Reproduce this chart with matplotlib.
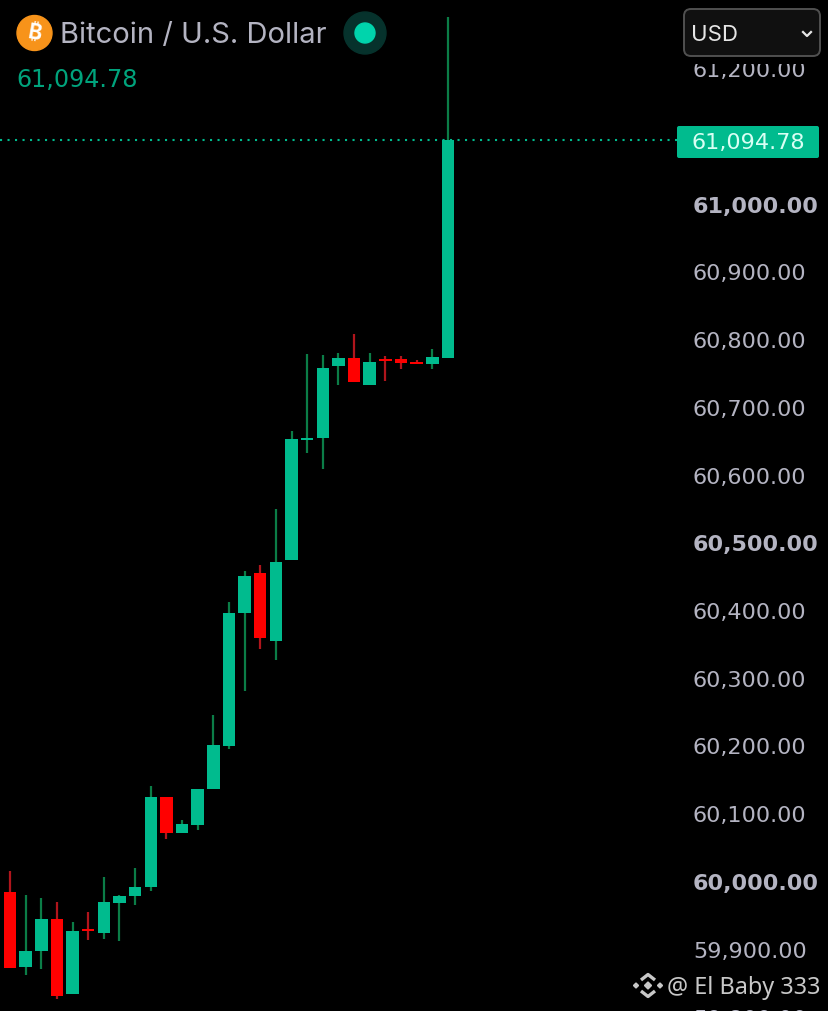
import matplotlib
matplotlib.use("Agg")
import matplotlib.pyplot as plt
from matplotlib.patches import Circle, FancyBboxPatch, Polygon, Rectangle
from matplotlib.transforms import IdentityTransform, blended_transform_factory
import numpy as np

# Candles
opens = [59985, 59874, 59898, 59945, 59835, 59930, 59924, 59969, 59979, 59992,
         60126, 60073, 60084, 60137, 60201, 60397, 60456, 60356, 60475, 60653,
         60656, 60762, 60773, 60733, 60772, 60772, 60768, 60764, 60774]
closes = [59873, 59898, 59945, 59832, 59928, 59927, 59970, 59980, 59993, 60126,
          60073, 60085, 60137, 60202, 60397, 60452, 60360, 60473, 60654, 60655,
          60758, 60773, 60738, 60768, 60769, 60766, 60765, 60775, 61094.78]
highs = [60016, 59981, 59976, 59970, 59941, 59956, 60007, 59981, 60020, 60141,
         60126, 60092, 60137, 60246, 60414, 60459, 60468, 60551, 60666, 60779,
         60778, 60781, 60809, 60781, 60777, 60776, 60770, 60786, 61277]
lows = [59873, 59862, 59872, 59827, 59835, 59914, 59916, 59913, 59966, 59987,
        60063, 60073, 60077, 60137, 60196, 60282, 60344, 60328, 60475, 60633,
        60610, 60734, 60738, 60733, 60739, 60757, 60765, 60757, 60774]

price_ticks = [59900, 60000, 60100, 60200, 60300, 60400, 60500, 60600,
               60700, 60800, 60900, 61000, 61200]
bold_ticks = [60000, 60500, 61000]
cut_tick = 59800  # only its top shows at the bottom edge
last_price = 61094.78

title = "Bitcoin / U.S. Dollar"
watermark = "@ El Baby 333"
currency = "USD"

GREEN = "#00bb8e"
GREEN_WICK = "#0b7d47"
RED = "#ff0000"
RED_WICK = "#b0151c"
LABEL = "#b4b4c2"

plt.rcParams["font.family"] = ["DejaVu Sans"]

W, H = 829, 1011
fig = plt.figure(figsize=(W / 100, H / 100), dpi=100, facecolor="black")
ax = fig.add_axes([0, 0, 1, 1], facecolor="black")

idx = np.arange(len(opens))
opens = np.array(opens)
closes = np.array(closes)
highs = np.array(highs)
lows = np.array(lows)
up = closes >= opens

ax.vlines(idx, lows, highs, colors=[GREEN_WICK if u else RED_WICK for u in up], linewidth=1.6, zorder=2)
ax.bar(idx, np.abs(closes - opens), bottom=np.minimum(opens, closes), width=0.8,
       color=[GREEN if u else RED for u in up], zorder=3)

# price axis, labels sit inside the figure
ax.set_yticks(price_ticks)
ax.set_yticklabels([f"{p:,.2f}" for p in price_ticks])
ax.yaxis.tick_right()
ax.tick_params(axis="y", length=0, pad=-(W - 693) * 0.72, labelsize=16.1, labelcolor=LABEL)
for lab, p in zip(ax.get_yticklabels(), price_ticks):
    lab.set_ha("left")
    if p in bold_ticks:
        lab.set_fontweight("bold")
        lab.set_fontsize(16)
ax.set_xticks([])
for s in ax.spines.values():
    s.set_visible(False)

# scale: 677.5 px per 1000 USD, 60000 sits at y=882; candles 15.64 px apart, first at x=10
px_per_usd = 0.6775
ax.set_ylim(60000 - (H - 882) / px_per_usd, 60000 + 882 / px_per_usd)
ax.set_xlim(-10 / 15.64, (W - 10) / 15.64)

ax.text(693, cut_tick, f"{cut_tick:,.2f}", color=LABEL, fontsize=16.1, ha="left", va="center_baseline",
        transform=blended_transform_factory(IdentityTransform(), ax.transData))

# dotted last price line up to the tag
ax.hlines(last_price, -10 / 15.64, (677 - 10) / 15.64, colors=GREEN, linestyles=(0, (1, 2.6)), linewidth=1.5, zorder=1)

# overlay in pixel coordinates for the widgets
ov = fig.add_axes([0, 0, 1, 1], facecolor="none")
ov.set_xlim(0, W)
ov.set_ylim(H, 0)
ov.axis("off")

ov.add_patch(Circle((34.5, 33), 17.5, color="#f7931a"))
ov.text(34.5, 33.5, "\u20bf", color="white", fontsize=15, fontweight="bold", ha="center", va="center",
        rotation=-10, family=["Inter", "Noto Sans", "Roboto", "Open Sans", "Lato", "DejaVu Sans"])
ov.text(60, 33, title, color=LABEL, fontsize=21, ha="left", va="center_baseline", family=["Inter", "DejaVu Sans"])
ov.text(16, 78, f"{last_price:,.2f}", color="#00a37c", fontsize=17.2, ha="left", va="center_baseline")
ov.add_patch(Circle((365, 33), 21, color="#06322c"))
ov.add_patch(Circle((365, 33), 10, color="#00d4ac"))

# currency selector, its black margin cuts the top of the 61,200 label
ov.add_patch(Rectangle((680, 0), 149, 63.5, facecolor="black", edgecolor="none", zorder=4))
ov.add_patch(FancyBboxPatch((684, 9), 136, 47, boxstyle="round,pad=0,rounding_size=7",
                            facecolor="#101010", edgecolor="#505050", linewidth=1.4, zorder=5))
ov.text(691, 33, currency, color="#e6e6e6", fontsize=16, ha="left", va="center_baseline", zorder=6,
        family=["Inter", "DejaVu Sans"])
ov.plot([803, 807, 811], [32, 36, 32], color="#e6e6e6", linewidth=1.6, zorder=6)

# last price tag
ov.add_patch(FancyBboxPatch((677, 126), 142, 32, boxstyle="round,pad=0,rounding_size=2",
                            facecolor=GREEN, edgecolor="none", zorder=5))
ov.text(692, 141, f"{last_price:,.2f}", color="#d8fff4", fontsize=16.1, ha="left", va="center_baseline", zorder=6)

# watermark logo
logo = "#c8c8c8"
cx, cy = 648, 985.5
ov.add_patch(Polygon([(cx, cy - 3.5), (cx + 3.5, cy), (cx, cy + 3.5), (cx - 3.5, cy)], color=logo, zorder=6))
for sy in (-1, 1):
    ov.plot([cx - 7, cx, cx + 7], [cy + sy * 5.5, cy + sy * 11, cy + sy * 5.5], color=logo, linewidth=2.4,
            solid_capstyle="butt", zorder=6)
for sx in (-1, 1):
    ov.add_patch(Polygon([(cx + sx * 12, cy - 2.5), (cx + sx * 9.5, cy), (cx + sx * 12, cy + 2.5), (cx + sx * 14.5, cy)],
                         color=logo, zorder=6))
ov.text(667, 985.5, watermark, color="#c8c8c8", fontsize=16.9, ha="left", va="center_baseline", zorder=6,
        family=["Noto Sans", "DejaVu Sans"])

fig.savefig("out.png", dpi=100, facecolor="black")
